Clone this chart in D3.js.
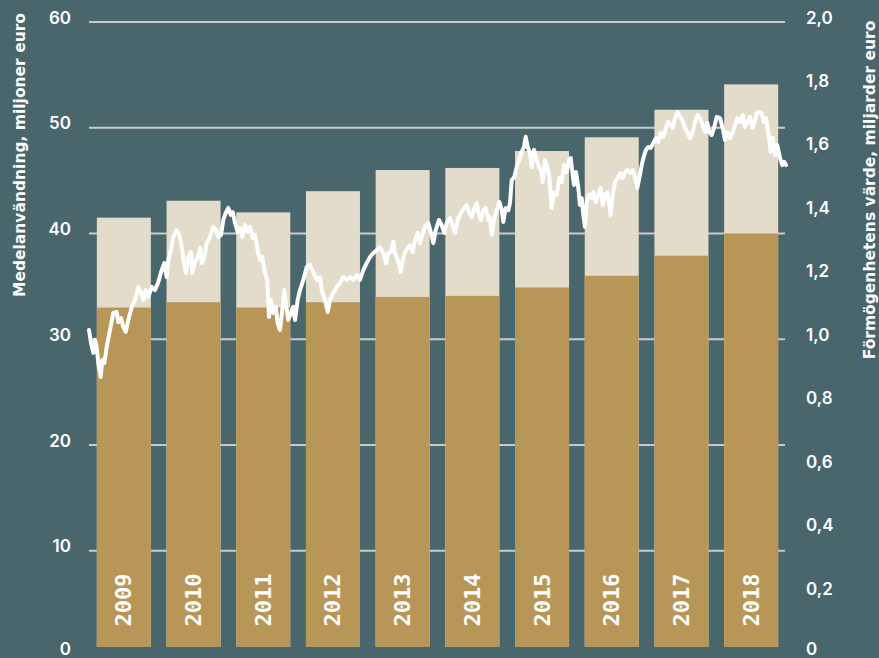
<!DOCTYPE html>
<html>
<head>
<meta charset="utf-8">
<script src="https://cdn.jsdelivr.net/npm/d3@7"></script>
<style>
  html, body { margin: 0; padding: 0; background: #4a666d; }
  svg { display: block; }
</style>
</head>
<body>
<svg id="chart" width="879" height="658"></svg>
<script>
// ---------- data ----------
const years = ["2009", "2010", "2011", "2012", "2013", "2014", "2015", "2016", "2017", "2018"];
// Medelanvändning (miljoner euro): lower (dark) part and total bar height
const baseValues  = [33.0, 33.5, 33.0, 33.5, 34.0, 34.1, 34.9, 36.0, 37.9, 40.0];
const totalValues = [41.5, 43.1, 42.0, 44.0, 46.0, 46.2, 47.8, 49.1, 51.7, 54.1];

const leftTicks  = [0, 10, 20, 30, 40, 50, 60];
const rightTicks = [0, 0.2, 0.4, 0.6, 0.8, 1.0, 1.2, 1.4, 1.6, 1.8, 2.0];
const rightTickLabels = ["0", "0,2", "0,4", "0,6", "0,8", "1,0", "1,2", "1,4", "1,6", "1,8", "2,0"];

const leftTitle  = "Medelanvändning, miljoner euro";
const rightTitle = "Förmögenhetens värde, miljarder euro";

// Förmögenhetens värde (miljarder euro), time in years since 2009
const lineTimes = [
  0.000,0.029,0.062,0.086,0.110,0.133,0.168,0.191,0.220,0.254,0.301,0.349,0.397,0.420,0.459,0.492,0.527,0.564,0.613,0.660,
  0.707,0.746,0.779,0.813,0.851,0.900,0.947,0.994,1.043,1.080,1.115,1.138,1.176,1.209,1.258,1.296,1.330,1.363,1.392,1.425,
  1.463,1.482,1.521,1.560,1.593,1.617,1.654,1.689,1.736,1.783,1.822,1.855,1.894,1.927,1.961,1.999,2.033,2.062,2.095,2.133,
  2.166,2.199,2.238,2.277,2.310,2.349,2.382,2.420,2.453,2.486,2.525,2.558,2.582,2.611,2.644,2.679,2.707,2.740,2.773,2.802,
  2.826,2.859,2.898,2.931,2.956,2.994,3.027,3.075,3.123,3.171,3.218,3.267,3.314,3.339,3.386,3.425,3.458,3.505,3.554,3.601,
  3.649,3.697,3.745,3.792,3.841,3.888,3.935,3.984,4.032,4.079,4.128,4.175,4.222,4.261,4.294,4.333,4.366,4.390,4.429,4.472,
  4.501,4.534,4.572,4.605,4.644,4.677,4.716,4.749,4.773,4.821,4.868,4.907,4.940,4.974,5.022,5.060,5.098,5.132,5.179,5.227,
  5.251,5.290,5.337,5.385,5.419,5.452,5.491,5.528,5.562,5.595,5.624,5.657,5.692,5.729,5.753,5.778,5.811,5.849,5.887,5.921,
  5.944,5.978,6.016,6.040,6.065,6.102,6.136,6.169,6.208,6.241,6.265,6.294,6.327,6.352,6.385,6.423,6.456,6.485,6.509,6.542,
  6.575,6.604,6.638,6.671,6.710,6.748,6.782,6.815,6.854,6.887,6.911,6.940,6.958,6.987,7.020,7.044,7.069,7.092,7.116,7.141,
  7.174,7.212,7.235,7.270,7.307,7.341,7.370,7.403,7.436,7.465,7.485,7.514,7.547,7.585,7.618,7.657,7.690,7.723,7.762,7.801,
  7.834,7.867,7.895,7.930,7.953,7.991,8.024,8.059,8.096,8.135,8.168,8.202,8.240,8.278,8.311,8.346,8.374,8.407,8.446,8.479,
  8.512,8.551,8.584,8.623,8.661,8.694,8.733,8.766,8.805,8.838,8.871,8.900,8.934,8.967,9.006,9.053,9.092,9.125,9.158,9.197,
  9.230,9.268,9.301,9.340,9.379,9.412,9.445,9.484,9.516,9.545,9.580,9.617,9.651,9.684,9.713,9.746,9.780,9.809,9.842,9.875,
  9.914,9.947,9.976,10.000
];
const lineValues = [
  1.029,0.988,0.957,0.998,0.976,0.925,0.881,0.935,0.925,0.976,1.029,1.083,1.086,1.054,1.067,1.039,1.023,1.061,1.102,1.124,
  1.165,1.146,1.124,1.155,1.133,1.165,1.155,1.180,1.218,1.240,1.196,1.250,1.281,1.322,1.344,1.329,1.291,1.240,1.209,1.259,
  1.275,1.209,1.244,1.259,1.288,1.240,1.259,1.303,1.322,1.354,1.344,1.322,1.329,1.376,1.398,1.414,1.392,1.401,1.366,1.338,
  1.351,1.322,1.360,1.338,1.354,1.319,1.329,1.281,1.250,1.259,1.209,1.187,1.070,1.124,1.083,1.102,1.051,1.029,1.092,1.155,
  1.108,1.061,1.083,1.102,1.061,1.124,1.155,1.187,1.228,1.234,1.212,1.187,1.196,1.155,1.124,1.086,1.124,1.146,1.165,1.177,
  1.196,1.187,1.196,1.187,1.203,1.187,1.218,1.240,1.259,1.272,1.281,1.291,1.272,1.240,1.272,1.275,1.307,1.272,1.250,1.212,
  1.250,1.275,1.288,1.297,1.275,1.313,1.335,1.303,1.322,1.354,1.366,1.335,1.303,1.344,1.376,1.360,1.335,1.366,1.382,1.354,
  1.335,1.376,1.398,1.414,1.423,1.401,1.385,1.414,1.429,1.392,1.376,1.407,1.414,1.376,1.385,1.329,1.376,1.407,1.433,1.407,
  1.370,1.414,1.407,1.429,1.502,1.511,1.543,1.565,1.590,1.606,1.638,1.606,1.587,1.543,1.597,1.565,1.543,1.533,1.496,1.565,
  1.543,1.511,1.414,1.461,1.455,1.508,1.496,1.549,1.527,1.565,1.571,1.518,1.486,1.527,1.477,1.423,1.445,1.392,1.354,1.433,
  1.455,1.445,1.464,1.433,1.455,1.477,1.423,1.455,1.464,1.423,1.392,1.455,1.496,1.508,1.524,1.508,1.527,1.533,1.524,1.533,
  1.511,1.477,1.508,1.549,1.571,1.597,1.606,1.603,1.619,1.634,1.622,1.650,1.638,1.666,1.685,1.675,1.666,1.697,1.716,1.701,
  1.691,1.666,1.653,1.634,1.653,1.685,1.707,1.697,1.675,1.653,1.682,1.653,1.644,1.666,1.701,1.697,1.666,1.628,1.653,1.634,
  1.650,1.675,1.697,1.685,1.707,1.669,1.685,1.701,1.666,1.682,1.713,1.716,1.713,1.685,1.697,1.653,1.590,1.634,1.581,1.612,
  1.571,1.549,1.559,1.549
];

// ---------- layout ----------
const W = 879, H = 658;
const plotLeft = 89, plotRight = 786, plotTop = 22, plotBottom = 656.5;
const barBottomGap = 9.5;
const colors = {
  bg: "#4a666d",
  grid: "#c9cbcb",
  dark: "#b89658",
  light: "#e3dccb",
  text: "#ffffff",
  line: "#ffffff"
};
const tickFont = "Inter, 'DejaVu Sans', sans-serif";
const titleFont = "'DejaVu Sans', sans-serif";

const svg = d3.select("#chart");
svg.append("rect").attr("width", W).attr("height", H).attr("fill", colors.bg);

const x = d3.scaleBand().domain(years).range([plotLeft, plotRight])
  .paddingInner(0.225).paddingOuter(0.1125);
const yL = d3.scaleLinear().domain([0, 60]).range([plotBottom, plotTop]);
const yR = d3.scaleLinear().domain([0, 2]).range([plotBottom, plotTop]);
const xT = d3.scaleLinear().domain([0, 10]).range([plotLeft, plotRight]);
const labelY = v => Math.min(v - 4.5, H - 9);

// grid lines
svg.append("g").selectAll("line")
  .data(leftTicks.filter(d => d > 0))
  .join("line")
  .attr("x1", plotLeft).attr("x2", plotRight - 1)
  .attr("y1", d => yL(d)).attr("y2", d => yL(d))
  .attr("stroke", colors.grid).attr("stroke-width", 2);

// bars
const barBottom = yL(0) - barBottomGap;
const bars = svg.append("g");
bars.selectAll("rect.total")
  .data(years)
  .join("rect")
  .attr("class", "total")
  .attr("x", d => x(d)).attr("width", x.bandwidth())
  .attr("y", (d, i) => yL(totalValues[i]))
  .attr("height", (d, i) => barBottom - yL(totalValues[i]))
  .attr("fill", colors.light);
bars.selectAll("rect.base")
  .data(years)
  .join("rect")
  .attr("class", "base")
  .attr("x", d => x(d)).attr("width", x.bandwidth())
  .attr("y", (d, i) => yL(baseValues[i]))
  .attr("height", (d, i) => barBottom - yL(baseValues[i]))
  .attr("fill", colors.dark);

// year labels inside bars
svg.append("g").selectAll("text")
  .data(years)
  .join("text")
  .attr("transform", d => `translate(${x(d) + x.bandwidth() / 2},600) rotate(-90)`)
  .attr("text-anchor", "middle")
  .attr("dominant-baseline", "central")
  .attr("fill", colors.text)
  .attr("font-family", "'DejaVu Sans Mono', 'Liberation Mono', monospace")
  .attr("font-weight", "bold")
  .attr("font-size", 22)
  .text(d => d);

// value line
const line = d3.line()
  .x((d, i) => xT(lineTimes[i]))
  .y(d => yR(d))
  .curve(d3.curveLinear);
svg.append("path")
  .datum(lineValues)
  .attr("d", line)
  .attr("fill", "none")
  .attr("stroke", colors.line)
  .attr("stroke-width", 4)
  .attr("stroke-linejoin", "round")
  .attr("stroke-linecap", "round");

// left axis tick labels
svg.append("g").selectAll("text")
  .data(leftTicks)
  .join("text")
  .attr("x", 71).attr("y", d => labelY(yL(d)))
  .attr("text-anchor", "end")
  .attr("dominant-baseline", "central")
  .attr("fill", colors.text)
  .attr("font-family", tickFont)
  .attr("font-weight", 600)
  .attr("font-size", 17)
  .text(d => d);

// right axis tick labels
svg.append("g").selectAll("text")
  .data(rightTicks)
  .join("text")
  .attr("x", 806).attr("y", d => labelY(yR(d)))
  .attr("text-anchor", "start")
  .attr("dominant-baseline", "central")
  .attr("fill", colors.text)
  .attr("font-family", tickFont)
  .attr("font-weight", 600)
  .attr("font-size", 17)
  .text((d, i) => rightTickLabels[i]);

// axis titles
svg.append("text")
  .attr("transform", "translate(25,155) rotate(-90)")
  .attr("text-anchor", "middle")
  .attr("fill", colors.text)
  .attr("font-family", titleFont)
  .attr("font-weight", "bold")
  .attr("font-size", 15.5)
  .text(leftTitle);
svg.append("text")
  .attr("transform", "translate(875,190) rotate(-90)")
  .attr("text-anchor", "middle")
  .attr("fill", colors.text)
  .attr("font-family", titleFont)
  .attr("font-weight", "bold")
  .attr("font-size", 15.5)
  .text(rightTitle);
</script>
</body>
</html>
